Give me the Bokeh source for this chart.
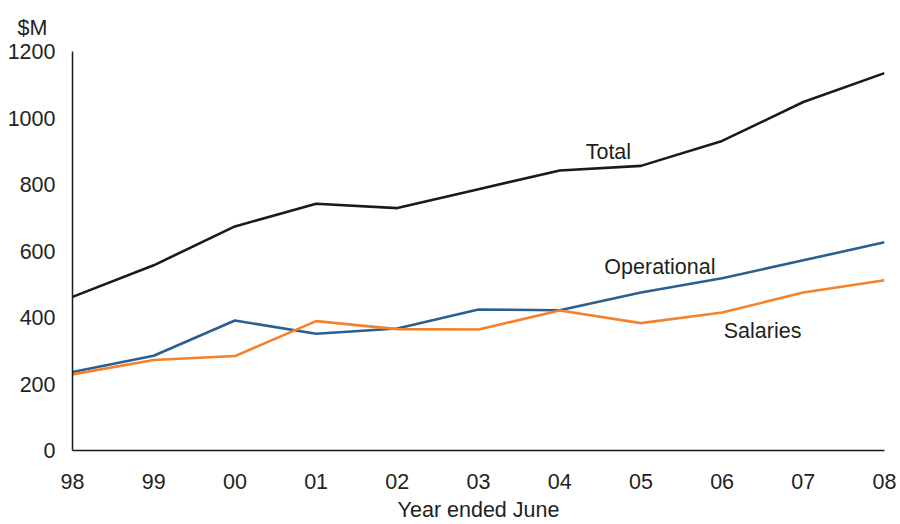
from bokeh.plotting import figure
from bokeh.models import Range1d, Label, FixedTicker
from bokeh.embed import file_html
from bokeh.resources import INLINE

years = ["98", "99", "00", "01", "02", "03", "04", "05", "06", "07", "08"]
total = [462, 557, 674, 742, 729, 786, 842, 856, 931, 1048, 1135]
operational = [236, 285, 391, 351, 367, 424, 422, 475, 518, 572, 626]
salaries = [229, 272, 284, 389, 365, 364, 421, 383, 415, 475, 512]
y_ticks = [0, 200, 400, 600, 800, 1000, 1200]

FONT = "Liberation Sans"
TXT = "#231f20"
FS = "21.5px"

xs = list(range(len(years)))

p = figure(width=896, height=524, output_backend="svg", toolbar_location=None,
           x_range=Range1d(0, len(years) - 1), y_range=Range1d(0, 1200),
           min_border_left=72, min_border_right=12, min_border_top=51, min_border_bottom=72)

p.title.text = "$M"
p.title.text_font = FONT
p.title.text_font_size = FS
p.title.text_font_style = "normal"
p.title.text_color = TXT
p.title.align = "left"
p.title.offset = -55
p.title.standoff = 24

p.grid.visible = False
p.outline_line_color = None

p.line(xs, total, line_color="#1a1a1a", line_width=2.6)
p.line(xs, operational, line_color="#2c5f91", line_width=2.6)
p.line(xs, salaries, line_color="#f5822a", line_width=2.6)

for ax in (p.xaxis[0], p.yaxis[0]):
    ax.axis_line_color = "#1a1a1a"
    ax.axis_line_width = 1.5
    ax.major_tick_line_color = None
    ax.minor_tick_line_color = None
    ax.major_tick_out = 0
    ax.major_tick_in = 0
    ax.major_label_text_font = FONT
    ax.major_label_text_font_size = FS
    ax.major_label_text_color = TXT

p.yaxis.ticker = FixedTicker(ticks=y_ticks)
p.yaxis.major_label_standoff = 17

p.xaxis.ticker = FixedTicker(ticks=xs)
p.xaxis.major_label_overrides = {i: y for i, y in enumerate(years)}
p.xaxis.major_label_standoff = 23
p.xaxis.axis_label = "Year ended June"
p.xaxis.axis_label_text_font = FONT
p.xaxis.axis_label_text_font_size = FS
p.xaxis.axis_label_text_font_style = "normal"
p.xaxis.axis_label_text_color = TXT
p.xaxis.axis_label_standoff = 6

labels = [("Total", 6.32, 898), ("Operational", 6.55, 553), ("Salaries", 8.02, 359)]
for txt, x, y in labels:
    p.add_layout(Label(x=x, y=y, text=txt, text_font=FONT, text_font_size=FS,
                       text_color=TXT, text_baseline="middle", text_align="left"))

open("out.html", "w").write(file_html(p, INLINE))
